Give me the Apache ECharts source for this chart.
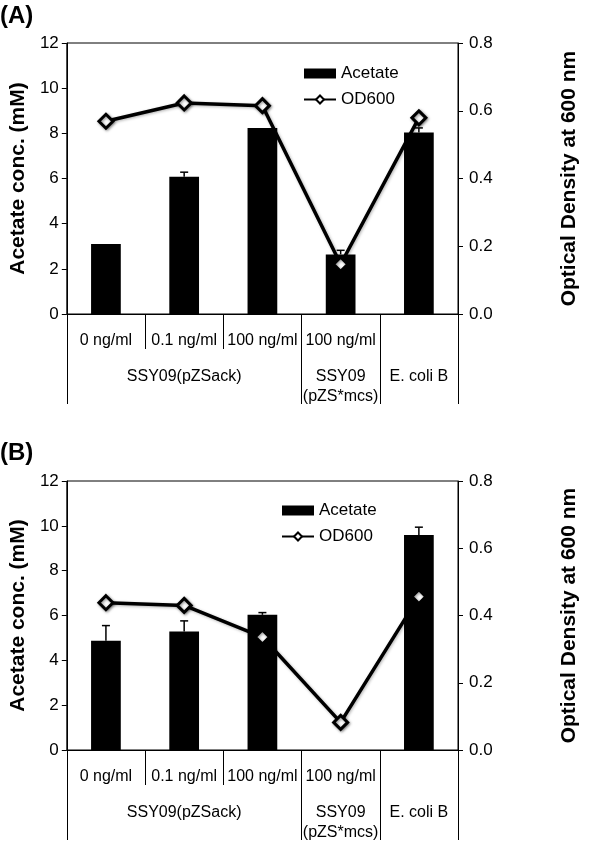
<!DOCTYPE html>
<html>
<head>
<meta charset="utf-8">
<script src="https://cdn.jsdelivr.net/npm/echarts@6/dist/echarts.min.js"></script>
<style>
html,body{margin:0;padding:0;background:#fff;}
#chart{width:600px;height:843px;}
</style>
</head>
<body>
<div id="chart"></div>
<script>
// ---- data ----
var concLabels = ['0 ng/ml', '0.1 ng/ml', '100 ng/ml', '100 ng/ml', ''];
var strainLabels = ['', 'SSY09(pZSack)', '', 'SSY09\n(pZS*mcs)', 'E. coli B'];
var strainBoundaryIdx = [0, 3, 4];

var acetateA = [3.1, 6.08, 8.24, 2.64, 8.04];
var acetateErrA = [0, 0.2, 0, 0.18, 0.2];
var odA = [0.569, 0.623, 0.615, 0.147, 0.579];

var acetateB = [4.87, 5.29, 6.03, 0, 9.59];
var acetateErrB = [0.68, 0.47, 0.1, 0, 0.35];
var odB = [0.438, 0.43, 0.336, 0.082, 0.456];

var leftTicks = {min: 0, max: 12, interval: 2};
var rightTicks = {min: 0, max: 0.8, interval: 0.2};

// ---- chart ----
var FONT = 'Liberation Sans, Arial, sans-serif';
var chart = echarts.init(document.getElementById('chart'), null, {renderer: 'canvas'});

function xAxes(grid) {
  return [
    {
      type: 'category', gridIndex: grid, data: concLabels, position: 'bottom',
      axisLine: {show: true, lineStyle: {color: '#000', width: 1}},
      axisTick: {show: true, interval: 0, length: 35, lineStyle: {color: '#000', width: 1}},
      axisLabel: {interval: 0, margin: 19, color: '#000', fontSize: 16, fontFamily: FONT},
      splitLine: {show: false}
    },
    {
      type: 'category', gridIndex: grid, data: strainLabels, position: 'bottom',
      axisLine: {show: false},
      axisTick: {show: true, length: 90, lineStyle: {color: '#000', width: 1},
        interval: function (idx) { return strainBoundaryIdx.indexOf(idx) >= 0; }},
      axisLabel: {interval: 0, margin: 53, color: '#000', fontSize: 16, fontFamily: FONT, lineHeight: 20},
      splitLine: {show: false}
    }
  ];
}

function yAxes(grid) {
  return [
    {
      type: 'value', gridIndex: grid, position: 'left',
      min: leftTicks.min, max: leftTicks.max, interval: leftTicks.interval,
      name: 'Acetate conc. (mM)', nameLocation: 'middle', nameGap: 34, nameRotate: 90,
      nameTextStyle: {fontSize: 21, fontWeight: 'bold', color: '#000', fontFamily: FONT},
      axisLine: {show: true, lineStyle: {color: '#000', width: 1}},
      axisTick: {show: true, length: 5, lineStyle: {color: '#000'}},
      axisLabel: {margin: 8, color: '#000', fontSize: 17, fontFamily: FONT},
      splitLine: {show: false}
    },
    {
      type: 'value', gridIndex: grid, position: 'right',
      min: rightTicks.min, max: rightTicks.max, interval: rightTicks.interval,
      name: 'Optical Density at 600 nm', nameLocation: 'middle', nameGap: 101, nameRotate: 90,
      nameTextStyle: {fontSize: 21, fontWeight: 'bold', color: '#000', fontFamily: FONT},
      axisLine: {show: true, lineStyle: {color: '#000', width: 1}},
      axisTick: {show: true, length: 5, lineStyle: {color: '#000'}},
      axisLabel: {margin: 11, color: '#000', fontSize: 17, fontFamily: FONT,
        formatter: function (v) { return v.toFixed(1); }},
      splitLine: {show: false}
    }
  ];
}

function errRender(params, api) {
  var err = api.value(2);
  if (!err) return null;
  var base = api.coord([api.value(0), api.value(1)]);
  var top = api.coord([api.value(0), api.value(1) + err]);
  var st = {stroke: '#000', lineWidth: 1.5};
  return {
    type: 'group',
    children: [
      {type: 'line', shape: {x1: base[0], y1: base[1], x2: top[0], y2: top[1]}, style: st},
      {type: 'line', shape: {x1: top[0] - 4, y1: top[1], x2: top[0] + 4, y2: top[1]}, style: st}
    ]
  };
}

function panelSeries(xi, yi, acet, err, od) {
  return [
    {
      name: 'Acetate', type: 'bar', xAxisIndex: xi, yAxisIndex: yi,
      data: acet, barWidth: '38%', itemStyle: {color: '#000'}, z: 2
    },
    {
      name: 'err', type: 'custom', xAxisIndex: xi, yAxisIndex: yi,
      data: err.map(function (e, i) { return [i, acet[i], e]; }),
      encode: {x: 0, y: 1}, renderItem: errRender, z: 3, silent: true
    },
    {
      name: 'OD600', type: 'line', xAxisIndex: xi, yAxisIndex: yi + 1,
      data: od, symbol: 'diamond', symbolSize: 14, z: 4,
      lineStyle: {color: '#000', width: 3.5, shadowBlur: 3, shadowColor: 'rgba(0,0,0,0.3)', shadowOffsetX: 1, shadowOffsetY: 1},
      itemStyle: {color: '#fff', borderColor: '#000', borderWidth: 3,
        shadowBlur: 3, shadowColor: 'rgba(0,0,0,0.45)', shadowOffsetX: 1, shadowOffsetY: 1}
    }
  ];
}

function legend(left, top) {
  return {
    orient: 'vertical', left: left, top: top, itemGap: 9, itemWidth: 32, itemHeight: 10,
    padding: 0, selectedMode: false,
    textStyle: {fontSize: 17, color: '#000', fontFamily: FONT},
    data: [{name: 'Acetate', icon: 'rect'}, {name: 'OD600'}]
  };
}

var option = {
  animation: false,
  backgroundColor: '#fff',
  textStyle: {fontFamily: FONT},
  title: [
    {text: '(A)', left: 0, top: 4, padding: 0, textStyle: {fontSize: 24, fontWeight: 'bold', color: '#000', fontFamily: FONT}},
    {text: '(B)', left: 0, top: 441, padding: 0, textStyle: {fontSize: 24, fontWeight: 'bold', color: '#000', fontFamily: FONT}}
  ],
  legend: [legend(303, 65), legend(281, 502)],
  grid: [
    {left: 66, top: 43, width: 392, height: 271, show: true, borderColor: '#000', borderWidth: 1, backgroundColor: 'transparent'},
    {left: 66, top: 481, width: 392, height: 272, show: true, borderColor: '#000', borderWidth: 1, backgroundColor: 'transparent'}
  ],
  xAxis: xAxes(0).concat(xAxes(1)),
  yAxis: yAxes(0).concat(yAxes(1)),
  series: panelSeries(0, 0, acetateA, acetateErrA, odA)
    .concat(panelSeries(2, 2, acetateB, acetateErrB, odB))
};
chart.setOption(option);
</script>
</body>
</html>
